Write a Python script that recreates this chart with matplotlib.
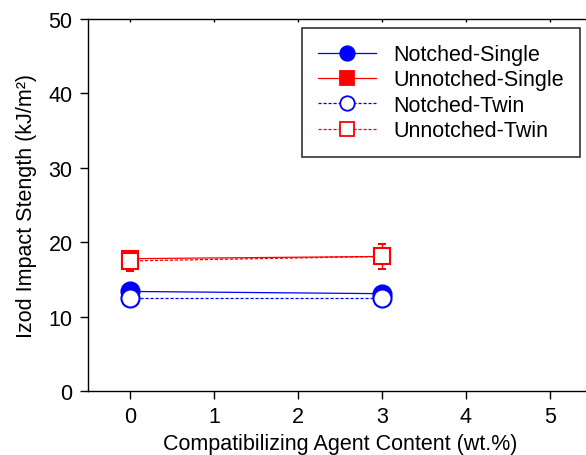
import matplotlib
matplotlib.use("Agg")
import matplotlib.pyplot as plt
from matplotlib.lines import Line2D

plt.rcParams['font.family'] = ['Liberation Sans', 'DejaVu Sans']

# compatibilizer content (wt.%)
content = [0, 3]

notched_single = [13.4, 13.1]
notched_single_err = [0.4, 0.4]
unnotched_single = [17.8, 18.1]
unnotched_single_err = [0.5, 0.6]
notched_twin = [12.5, 12.5]
notched_twin_err = [0.35, 0.3]
unnotched_twin = [17.5, 18.1]
unnotched_twin_err = [1.4, 1.7]

labels = ['Notched-Single', 'Unnotched-Single', 'Notched-Twin', 'Unnotched-Twin']
x_ticks = [0, 1, 2, 3, 4, 5]
y_ticks = [0, 10, 20, 30, 40, 50]

dash = (0, (2.5, 1.5))
styles = [
    dict(color='blue', ls='-', marker='o', ms=13, mfc='blue'),
    dict(color='red', ls='-', marker='s', ms=12, mfc='red'),
    dict(color='blue', ls=dash, marker='o', ms=13, mfc='white'),
    dict(color='red', ls=dash, marker='s', ms=12, mfc='white'),
]
series = [(notched_single, notched_single_err),
          (unnotched_single, unnotched_single_err),
          (notched_twin, notched_twin_err),
          (unnotched_twin, unnotched_twin_err)]

fig = plt.figure(figsize=(5.86, 4.56), dpi=100)
ax = fig.add_axes([0.150, 0.140, 0.860, 0.816])

handles = []
for (vals, err), st, lab in zip(series, styles, labels):
    ax.errorbar(content, vals, yerr=err, color=st['color'], lw=0.9,
                ls=st['ls'], marker=st['marker'], ms=st['ms'],
                mfc=st['mfc'], mec=st['color'], mew=1.5, capsize=3,
                elinewidth=1)
    handles.append(Line2D([], [], color=st['color'], lw=0.9, ls=st['ls'],
                          marker=st['marker'], ms=st['ms'] * 0.8,
                          mfc=st['mfc'], mec=st['color'], mew=1.3,
                          label=lab))

ax.set_xlim(-0.5, 5.5)
ax.set_ylim(0, 50)
ax.set_xticks(x_ticks)
ax.set_yticks(y_ticks)
ax.tick_params(axis='both', labelsize=15.5, length=6, width=1,
               direction='out', pad=5)
ax.tick_params(axis='x', top=True)
for t in ax.xaxis.get_major_ticks():
    t.tick2line.set_marker(3)
    t.tick2line.set_markersize(2)
ax.spines['right'].set_visible(False)
for sp in ax.spines.values():
    sp.set_linewidth(1)

ax.set_xlabel('Compatibilizing Agent Content (wt.%)', fontsize=15.5,
              labelpad=4)
ax.set_ylabel('Izod Impact Stength (kJ/m²)', fontsize=15.5, labelpad=8)

leg = ax.legend(handles=handles, loc='upper left',
                bbox_to_anchor=(0.425, 0.976), fontsize=15.5, frameon=True,
                fancybox=False, edgecolor='black', handlelength=2.7,
                labelspacing=0.2, borderpad=0.75, handletextpad=0.8,
                borderaxespad=0)
leg.get_frame().set_linewidth(1.2)

fig.savefig('out.png', dpi=100)
